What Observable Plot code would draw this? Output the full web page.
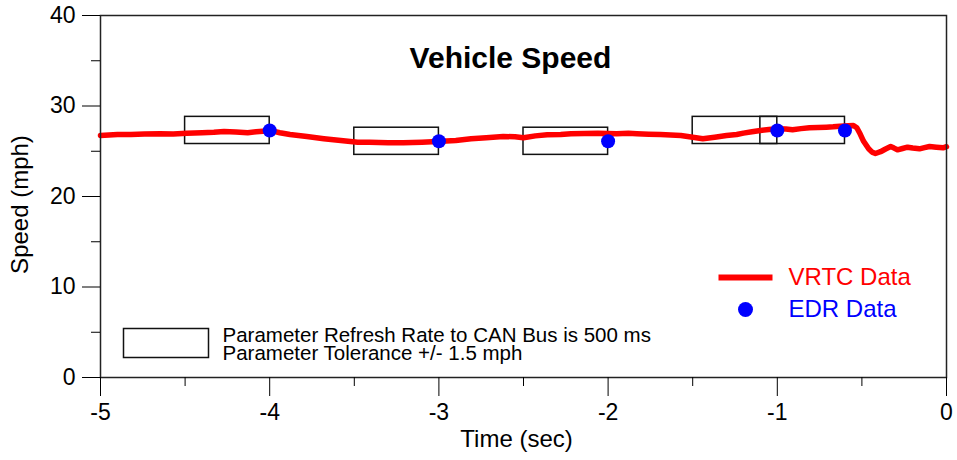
<!DOCTYPE html>
<html>
<head>
<meta charset="utf-8">
<script src="https://cdn.jsdelivr.net/npm/d3@7"></script>
<script src="https://cdn.jsdelivr.net/npm/@observablehq/plot@0.6"></script>
<style>
  html, body { margin: 0; padding: 0; background: #fff; }
  #chart svg { display: block; }
</style>
</head>
<body>
<div id="chart"></div>
<script>
// ---- Data ----
const title = "Vehicle Speed";
const xLabel = "Time (sec)";
const yLabel = "Speed (mph)";

const xMajorTicks = [-5, -4, -3, -2, -1, 0];
const xMinorTicks = [-4.5, -3.5, -2.5, -1.5, -0.5];
const yMajorTicks = [0, 10, 20, 30, 40];
const yMinorTicks = [5, 15, 25, 35];

// VRTC Data (continuous trace)
const vrtcTime = [
  -5.00, -4.90, -4.82, -4.74, -4.65, -4.57, -4.49, -4.40, -4.33, -4.27,
  -4.20, -4.13, -4.08, -4.04, -4.00, -3.94, -3.88, -3.78, -3.68, -3.58,
  -3.48, -3.41, -3.30, -3.21, -3.10, -3.01, -2.90, -2.81, -2.72, -2.62,
  -2.55, -2.50, -2.43, -2.36, -2.28, -2.22, -2.14, -2.06, -1.95, -1.88,
  -1.83, -1.76, -1.69, -1.63, -1.57, -1.50, -1.44, -1.37, -1.30, -1.24,
  -1.20, -1.15, -1.10, -1.05, -1.00, -0.95, -0.91, -0.86, -0.81, -0.76,
  -0.71, -0.67, -0.63, -0.58, -0.55, -0.53, -0.51, -0.49, -0.46, -0.44,
  -0.42, -0.39, -0.36, -0.33, -0.31, -0.29, -0.26, -0.23, -0.20, -0.16,
  -0.13, -0.10, -0.06, -0.02, 0.00
];
const vrtcSpeed = [
  26.75, 26.85, 26.85, 26.90, 26.93, 26.90, 27.00, 27.05, 27.10, 27.18,
  27.12, 27.04, 27.15, 27.22, 27.30, 27.05, 26.85, 26.62, 26.38, 26.18,
  26.00, 26.00, 25.95, 25.93, 26.00, 26.08, 26.20, 26.37, 26.50, 26.63,
  26.60, 26.49, 26.70, 26.82, 26.85, 26.93, 26.95, 27.00, 26.93, 26.98,
  26.93, 26.88, 26.85, 26.80, 26.74, 26.55, 26.38, 26.55, 26.74, 26.85,
  27.00, 27.15, 27.30, 27.40, 27.48, 27.45, 27.37, 27.50, 27.60, 27.62,
  27.66, 27.70, 27.77, 27.82, 27.85, 27.60, 26.90, 26.10, 25.27, 24.90,
  24.75, 24.95, 25.25, 25.52, 25.35, 25.16, 25.30, 25.45, 25.35, 25.27,
  25.40, 25.52, 25.45, 25.38, 25.50
];

// EDR Data (recorded samples)
const edrTime = [-4.0, -3.0, -2.0, -1.0, -0.6];
const edrSpeed = [27.3, 26.1, 26.1, 27.3, 27.3];

// Tolerance box parameters
const refreshInterval = 0.5; // sec
const tolerance = 1.5;       // mph

// Legend texts
const legendLines = ["VRTC Data", "EDR Data"];
const boxLegendLines = [
  "Parameter Refresh Rate to CAN Bus is 500 ms",
  "Parameter Tolerance +/- 1.5 mph"
];

// ---- Build tables ----
const vrtc = vrtcTime.map((t, i) => ({t, v: vrtcSpeed[i]}));
const edr = edrTime.map((t, i) => ({t, v: edrSpeed[i]}));
const boxes = edr.map(d => ({
  x1: d.t - refreshInterval, x2: d.t,
  y1: d.v - tolerance, y2: d.v + tolerance
}));

const FONT = "'Liberation Sans', Arial, Helvetica, sans-serif";

// custom symbols for legend swatches
const barSymbol = {draw(ctx) { ctx.rect(-27, -3, 54, 6); }};
const boxSymbol = {draw(ctx) { ctx.rect(-42.5, -14.5, 85, 29); }};

const chart = Plot.plot({
  width: 957,
  height: 460,
  marginLeft: 100,
  marginRight: 11,
  marginTop: 15,
  marginBottom: 83,
  style: {fontFamily: FONT, fontSize: "23px", color: "#000", background: "#fff"},
  x: {domain: [-5, 0]},
  y: {domain: [0, 40]},
  marks: [
    // tolerance boxes
    Plot.rect(boxes, {x1: "x1", x2: "x2", y1: "y1", y2: "y2",
      fill: "none", stroke: "#111", strokeWidth: 1.5}),
    // VRTC trace
    Plot.line(vrtc, {x: "t", y: "v", stroke: "#ff0000", strokeWidth: 5.5,
      strokeLinejoin: "round", strokeLinecap: "round"}),
    // EDR points
    Plot.dot(edr, {x: "t", y: "v", r: 7, fill: "#0000ff", stroke: "none"}),
    // frame
    Plot.frame({stroke: "#222", strokeWidth: 1.5}),
    // axes
    Plot.axisX({ticks: xMajorTicks, tickSize: 19, tickPadding: 7, fontSize: 23,
      tickFormat: d => String(d), label: null, stroke: "#000"}),
    Plot.axisX({ticks: xMinorTicks, tickSize: 9, tickFormat: () => "", label: null, stroke: "#000"}),
    Plot.axisY({ticks: yMajorTicks, tickSize: 18, tickPadding: 7, fontSize: 23,
      tickFormat: d => String(d), label: null, stroke: "#000"}),
    Plot.axisY({ticks: yMinorTicks, tickSize: 9, tickFormat: () => "", label: null, stroke: "#000"}),
    // axis labels
    Plot.text([xLabel], {frameAnchor: "bottom", text: d => d, dx: -7, dy: 69,
      textAnchor: "middle", lineAnchor: "bottom", fontSize: 24, fill: "#000"}),
    Plot.text([yLabel], {frameAnchor: "left", text: d => d, rotate: -90, dx: -73, dy: 8,
      textAnchor: "middle", lineAnchor: "bottom", fontSize: 24, fill: "#000"}),
    // title
    Plot.text([title], {frameAnchor: "top", text: d => d, dx: -13, dy: 52,
      textAnchor: "middle", lineAnchor: "bottom", fontSize: 30, fontWeight: "bold", fill: "#000"}),
    // series legend
    Plot.dot([legendLines[0]], {frameAnchor: "bottom-right", dx: -201, dy: -100,
      symbol: barSymbol, fill: "#ff0000", stroke: "none"}),
    Plot.text([legendLines[0]], {frameAnchor: "bottom-right", text: d => d, dx: -158, dy: -100,
      textAnchor: "start", lineAnchor: "middle", fontSize: 24, fill: "#ff0000"}),
    Plot.dot([legendLines[1]], {frameAnchor: "bottom-right", dx: -201, dy: -68,
      r: 7.5, fill: "#0000ff", stroke: "none"}),
    Plot.text([legendLines[1]], {frameAnchor: "bottom-right", text: d => d, dx: -158, dy: -68,
      textAnchor: "start", lineAnchor: "middle", fontSize: 24, fill: "#0000ff"}),
    // box legend
    Plot.dot([boxLegendLines[0]], {frameAnchor: "bottom-left", dx: 65.5, dy: -34.5,
      symbol: boxSymbol, fill: "#fff", stroke: "#111", strokeWidth: 1.5}),
    Plot.text([boxLegendLines.join("\n")], {frameAnchor: "bottom-left", text: d => d, dx: 122, dy: -17.5,
      textAnchor: "start", lineAnchor: "bottom", lineHeight: 0.86, fontSize: 20.5, fill: "#000"})
  ]
});

document.getElementById("chart").appendChild(chart);
</script>
</body>
</html>
